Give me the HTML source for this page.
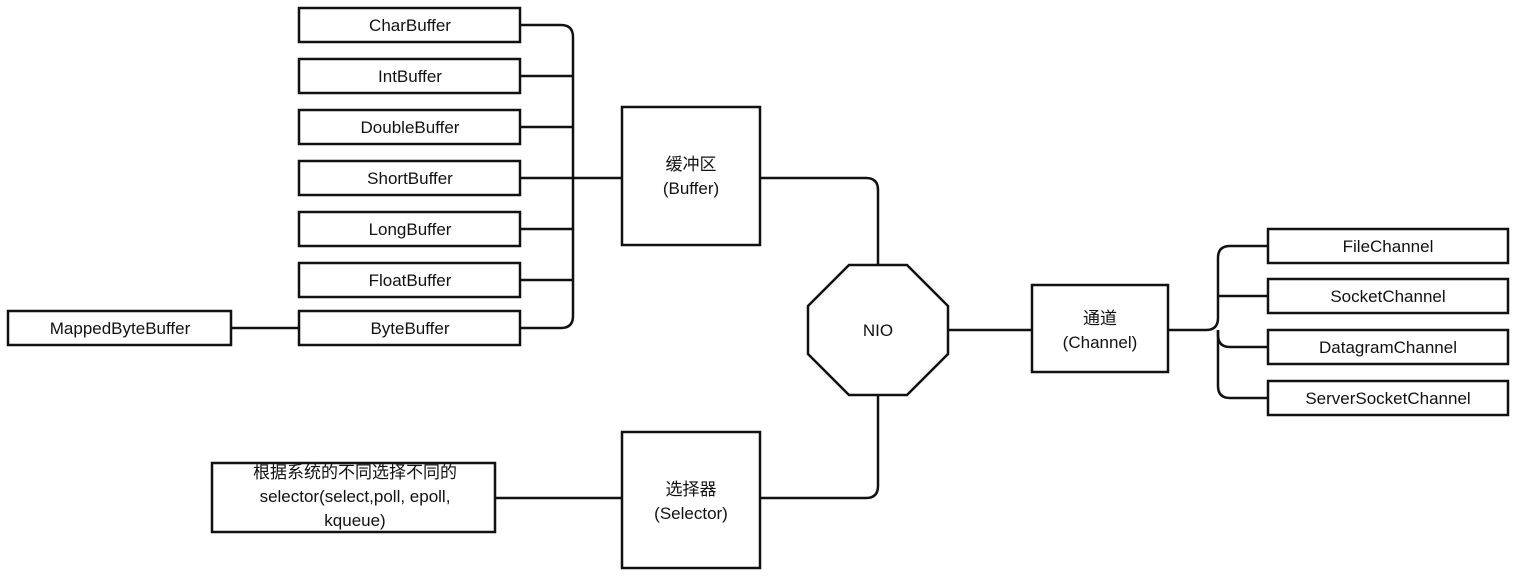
<!DOCTYPE html>
<html><head><meta charset="utf-8"><style>
body{margin:0;background:#fff;}
svg text{font-family:"Liberation Sans","Noto Sans CJK SC",sans-serif;font-size:17px;fill:#111;text-anchor:middle;}
</style></head><body>
<svg width="1523" height="576" viewBox="0 0 1523 576" xmlns="http://www.w3.org/2000/svg">
<g fill="none" stroke="#111" stroke-width="2.5">
<!-- buffer trunk -->
<path d="M520 25 H561 Q573 25 573 37 V316 Q573 328 561 328 H520"/>
<path d="M520 76 H573 M520 127 H573 M520 229 H573 M520 280 H573"/>
<path d="M520 178 H622"/>
<path d="M231 328 H299"/>
<path d="M760 178 H866 Q878 178 878 190 V265"/>
<path d="M878 395 V486 Q878 498 866 498 H760"/>
<path d="M495 498 H622"/>
<path d="M948 330 H1032"/>
<path d="M1168 330 H1206 Q1218 330 1218 318 V258 Q1218 246 1230 246 H1268"/>
<path d="M1218 296 H1268 M1218 330 V335 Q1218 347 1230 347 H1268"/>
<path d="M1218 330 V386 Q1218 398 1230 398 H1268"/>
</g>
<g fill="#fff" stroke="#111" stroke-width="2.5">
<rect x="299" y="8" width="221" height="34"/>
<rect x="299" y="59" width="221" height="34"/>
<rect x="299" y="110" width="221" height="34"/>
<rect x="299" y="161" width="221" height="34"/>
<rect x="299" y="212" width="221" height="34"/>
<rect x="299" y="263" width="221" height="34"/>
<rect x="299" y="311" width="221" height="34"/>
<rect x="8" y="311" width="223" height="34"/>
<rect x="622" y="107" width="138" height="138"/>
<rect x="622" y="432" width="138" height="136"/>
<rect x="212" y="463" width="283" height="69"/>
<rect x="1032" y="285" width="136" height="87"/>
<rect x="1268" y="229" width="240" height="34"/>
<rect x="1268" y="279" width="240" height="34"/>
<rect x="1268" y="330" width="240" height="34"/>
<rect x="1268" y="381" width="240" height="34"/>
<polygon points="849,265 907,265 948,306 948,354 907,395 849,395 808,354 808,306"/>
</g>
<text x="410" y="31">CharBuffer</text>
<text x="410" y="82">IntBuffer</text>
<text x="410" y="133">DoubleBuffer</text>
<text x="410" y="184">ShortBuffer</text>
<text x="410" y="235">LongBuffer</text>
<text x="410" y="286">FloatBuffer</text>
<text x="410" y="334">ByteBuffer</text>
<text x="120" y="334">MappedByteBuffer</text>
<text x="691" y="170">缓冲区</text>
<text x="691" y="194">(Buffer)</text>
<text x="691" y="495">选择器</text>
<text x="691" y="519">(Selector)</text>
<text x="878" y="336">NIO</text>
<text x="1100" y="324">通道</text>
<text x="1100" y="348">(Channel)</text>
<text x="1388" y="252">FileChannel</text>
<text x="1388" y="302">SocketChannel</text>
<text x="1388" y="353">DatagramChannel</text>
<text x="1388" y="404">ServerSocketChannel</text>
<text x="355" y="478">根据系统的不同选择不同的</text>
<text x="355" y="502">selector(select,poll, epoll,</text>
<text x="355" y="526">kqueue)</text>
</svg>
</body></html>
